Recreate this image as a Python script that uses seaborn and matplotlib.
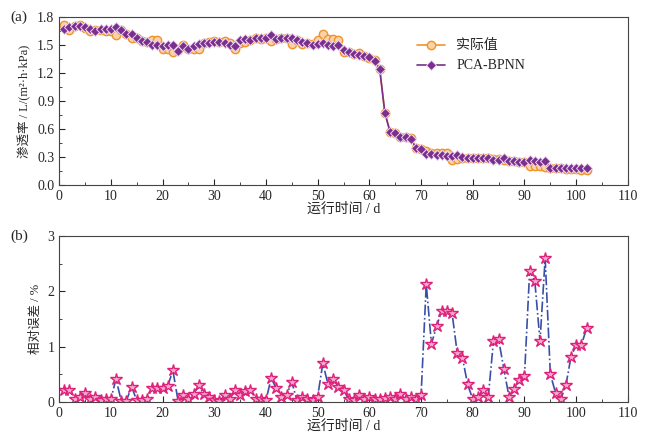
import numpy as np
import pandas as pd
import matplotlib
matplotlib.use('Agg')
import matplotlib.pyplot as plt
import seaborn as sns
from matplotlib.ticker import MultipleLocator

sns.set_style('ticks')
plt.rcParams['font.family'] = ['Liberation Serif', 'Noto Sans CJK SC']
plt.rcParams['axes.unicode_minus'] = False

days = list(range(1, 103))

actual = [1.72, 1.66, 1.70, 1.72, 1.68, 1.65, 1.66, 1.66, 1.65, 1.65,
          1.61, 1.66, 1.62, 1.57, 1.57, 1.54, 1.53, 1.55, 1.55, 1.46,
          1.46, 1.42, 1.45, 1.50, 1.46, 1.46, 1.46, 1.52, 1.53, 1.54,
          1.53, 1.54, 1.52, 1.46, 1.52, 1.53, 1.55, 1.58, 1.56, 1.57,
          1.54, 1.56, 1.58, 1.58, 1.51, 1.55, 1.51, 1.52, 1.51, 1.55,
          1.62, 1.56, 1.56, 1.55, 1.42, 1.42, 1.40, 1.41, 1.38, 1.36,
          1.34, 1.24, 0.77, 0.57, 0.56, 0.51, 0.51, 0.50, 0.40, 0.38,
          0.36, 0.34, 0.34, 0.34, 0.34, 0.27, 0.28, 0.29, 0.29, 0.29,
          0.29, 0.29, 0.29, 0.28, 0.28, 0.27, 0.26, 0.26, 0.25, 0.25,
          0.20, 0.20, 0.20, 0.19, 0.18, 0.18, 0.18, 0.17, 0.17, 0.17,
          0.16, 0.16]

predicted = [1.67, 1.69, 1.70, 1.70, 1.69, 1.67, 1.65, 1.67, 1.67, 1.67,
             1.69, 1.66, 1.62, 1.62, 1.58, 1.54, 1.53, 1.50, 1.50, 1.49,
             1.50, 1.50, 1.44, 1.49, 1.46, 1.49, 1.51, 1.52, 1.52, 1.53,
             1.53, 1.52, 1.50, 1.49, 1.55, 1.56, 1.55, 1.58, 1.58, 1.58,
             1.61, 1.56, 1.58, 1.57, 1.57, 1.55, 1.53, 1.52, 1.50, 1.51,
             1.52, 1.50, 1.49, 1.50, 1.45, 1.42, 1.40, 1.39, 1.38, 1.37,
             1.33, 1.24, 0.77, 0.57, 0.56, 0.51, 0.51, 0.49, 0.40, 0.38,
             0.33, 0.33, 0.32, 0.32, 0.31, 0.31, 0.32, 0.30, 0.29, 0.29,
             0.29, 0.29, 0.29, 0.27, 0.27, 0.29, 0.26, 0.26, 0.25, 0.25,
             0.27, 0.26, 0.24, 0.26, 0.18, 0.18, 0.18, 0.18, 0.18, 0.18,
             0.18, 0.18]

rel_error = [0.22, 0.22, 0.05, 0.10, 0.17, 0.05, 0.10, 0.03, 0.05, 0.05,
             0.42, 0.02, 0.02, 0.28, 0.03, 0.03, 0.06, 0.25, 0.26, 0.25,
             0.29, 0.57, 0.02, 0.12, 0.05, 0.15, 0.30, 0.14, 0.10, 0.03,
             0.02, 0.12, 0.05, 0.22, 0.13, 0.20, 0.22, 0.06, 0.05, 0.03,
             0.43, 0.25, 0.10, 0.13, 0.36, 0.03, 0.10, 0.06, 0.03, 0.10,
             0.70, 0.32, 0.41, 0.28, 0.22, 0.05, 0.03, 0.12, 0.05, 0.10,
             0.06, 0.05, 0.08, 0.10, 0.06, 0.15, 0.05, 0.10, 0.05, 0.12,
             2.13, 1.05, 1.37, 1.65, 1.65, 1.60, 0.88, 0.80, 0.32, 0.05,
             0.10, 0.22, 0.10, 1.10, 1.13, 0.60, 0.10, 0.23, 0.40, 0.47,
             2.37, 2.18, 1.10, 2.60, 0.50, 0.17, 0.05, 0.30, 0.82, 1.03,
             1.03, 1.33]

fig = plt.figure(figsize=(6.5, 4.37), dpi=100)
ax1 = fig.add_axes([0.091, 0.577, 0.875, 0.384])
ax2 = fig.add_axes([0.091, 0.08, 0.875, 0.38])

sns.lineplot(x=days, y=actual, ax=ax1, color='#F0932B', marker='o', markersize=6,
             markerfacecolor='#FBD3A8', markeredgecolor='#F0932B', markeredgewidth=1,
             linewidth=1.2, label='实际值')
sns.lineplot(x=days, y=predicted, ax=ax1, color='#7A2E8E', marker='D', markersize=5,
             markerfacecolor='#7A2E8E', markeredgecolor='#E8D6EE', markeredgewidth=0.7,
             linewidth=1.2, label='PCA-BPNN')
ax1.set_xlim(0, 110)
ax1.set_ylim(0, 1.8)
ax1.xaxis.set_major_locator(MultipleLocator(10))
ax1.xaxis.set_minor_locator(MultipleLocator(5))
ax1.yaxis.set_major_locator(MultipleLocator(0.3))
ax1.yaxis.set_minor_locator(MultipleLocator(0.15))
ax1.set_xlabel('运行时间 / d', fontsize=10, labelpad=0)
ax1.set_ylabel('渗透率 / L/(m²·h·kPa)', fontsize=9)
ax1.legend(loc='upper left', bbox_to_anchor=(0.62, 0.9), frameon=False, fontsize=10,
           handlelength=2, borderaxespad=0)
ax1.text(-0.085, 1.0, '(a)', transform=ax1.transAxes, fontsize=11, va='center')

sns.lineplot(x=days, y=rel_error, ax=ax2, color='#3A4FA8', linestyle='-.', linewidth=1.2,
             marker='*', markersize=9, markerfacecolor='#F7A8CC',
             markeredgecolor='#E0207A', markeredgewidth=1)
ax2.set_xlim(0, 110)
ax2.set_ylim(0, 3)
ax2.xaxis.set_major_locator(MultipleLocator(10))
ax2.xaxis.set_minor_locator(MultipleLocator(5))
ax2.yaxis.set_major_locator(MultipleLocator(1))
ax2.yaxis.set_minor_locator(MultipleLocator(0.5))
ax2.set_xlabel('运行时间 / d', fontsize=10, labelpad=0)
ax2.set_ylabel('相对误差 / %', fontsize=9)
ax2.text(-0.085, 1.0, '(b)', transform=ax2.transAxes, fontsize=11, va='center')

for ax in (ax1, ax2):
    ax.tick_params(direction='in', which='both', labelsize=10, top=False, right=False)
    ax.tick_params(which='major', length=4)
    ax.tick_params(which='minor', length=2)
    for s in ax.spines.values():
        s.set_color('#444444')
        s.set_linewidth(0.8)

fig.savefig('out.png', dpi=100)
